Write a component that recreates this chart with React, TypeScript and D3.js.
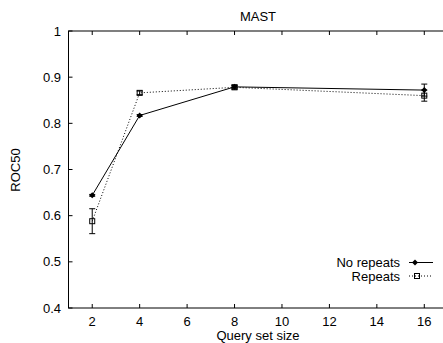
import React from "react";
import * as d3 from "d3";

const xValues = [2, 4, 8, 16];
const noRepeats = [0.644, 0.817, 0.879, 0.872];
const noRepeatsErr = [0.002, 0.002, 0.004, 0.013];
const repeats = [0.588, 0.866, 0.878, 0.86];
const repeatsErr = [0.027, 0.004, 0.004, 0.012];
const xTicks = [2, 4, 6, 8, 10, 12, 14, 16];
const yTicks = [0.4, 0.5, 0.6, 0.7, 0.8, 0.9, 1];

export default function App() {
  const W = 443, H = 343;
  const left = 68.5, top = 31, bottom = 308, right = 448;
  const x = d3.scaleLinear().domain([1, 17]).range([left, right]);
  const y = d3.scaleLinear().domain([0.4, 1]).range([bottom, top]);
  const line = d3.line<[number, number]>().x(d => x(d[0])).y(d => y(d[1]));
  const nr: [number, number][] = xValues.map((v, i) => [v, noRepeats[i]]);
  const rp: [number, number][] = xValues.map((v, i) => [v, repeats[i]]);
  const font = "'Liberation Sans', Arial, sans-serif";
  const fs = 13;
  const errBar = (cx: number, v: number, e: number, key: string) => {
    const y1 = y(v + e), y2 = y(v - e);
    return (
      <g key={key} stroke="#000" strokeWidth={1}>
        <line x1={cx} x2={cx} y1={y1} y2={y2} />
        <line x1={cx - 3} x2={cx + 3} y1={y1} y2={y1} />
        <line x1={cx - 3} x2={cx + 3} y1={y2} y2={y2} />
      </g>
    );
  };
  const diamond = (cx: number, cy: number, key: string) => (
    <path key={key} d={`M${cx},${cy - 3}L${cx + 3},${cy}L${cx},${cy + 3}L${cx - 3},${cy}Z`} fill="#000" />
  );
  const square = (cx: number, cy: number, key: string) => (
    <rect key={key} x={cx - 2.5} y={cy - 2.5} width={5} height={5} fill="none" stroke="#000" strokeWidth={1} />
  );
  const legY1 = 262.5, legY2 = 276;
  return (
    <svg width={W} height={H} style={{ position: "absolute", left: 0, top: 0 }} fontFamily={font}>
      <rect width={W} height={H} fill="#fff" />
      <g stroke="#000" strokeWidth={1} fill="none">
        <rect x={left} y={top} width={right - left} height={bottom - top} />
        {xTicks.map(t => (
          <g key={"xt" + t}>
            <line x1={x(t)} x2={x(t)} y1={bottom} y2={bottom - 4} />
            <line x1={x(t)} x2={x(t)} y1={top} y2={top + 4} />
          </g>
        ))}
        {yTicks.map(t => (
          <line key={"yt" + t} x1={left} x2={left + 4} y1={y(t)} y2={y(t)} />
        ))}
      </g>
      {xTicks.map(t => (
        <text key={"xl" + t} x={x(t)} y={bottom + 18} textAnchor="middle" fontSize={fs} fill="#000">{t}</text>
      ))}
      {yTicks.map(t => (
        <text key={"yl" + t} x={61} y={y(t) + 4.5} textAnchor="end" fontSize={fs} fill="#000">{t === 1 ? "1" : t.toFixed(1)}</text>
      ))}
      <text x={258} y={21} textAnchor="middle" fontSize={fs} fill="#000">MAST</text>
      <text x={258} y={340} textAnchor="middle" fontSize={fs} fill="#000">Query set size</text>
      <text transform={`translate(19.5,170) rotate(-90)`} textAnchor="middle" fontSize={fs} fill="#000">ROC50</text>

      <path d={line(nr) || ""} fill="none" stroke="#000" strokeWidth={1} />
      <path d={line(rp) || ""} fill="none" stroke="#000" strokeWidth={1} strokeDasharray="1,2" />
      {xValues.map((v, i) => errBar(x(v), noRepeats[i], noRepeatsErr[i], "en" + i))}
      {xValues.map((v, i) => errBar(x(v), repeats[i], repeatsErr[i], "er" + i))}
      {xValues.map((v, i) => square(x(v), y(repeats[i]), "sr" + i))}
      {xValues.map((v, i) => diamond(x(v), y(noRepeats[i]), "dn" + i))}

      <text x={400} y={legY1 + 4.5} textAnchor="end" fontSize={fs} fill="#000">No repeats</text>
      <line x1={409} x2={433} y1={legY1} y2={legY1} stroke="#000" strokeWidth={1} />
      {diamond(415, legY1, "ld")}
      <text x={400} y={legY2 + 4.5} textAnchor="end" fontSize={fs} fill="#000">Repeats</text>
      <line x1={409} x2={433} y1={legY2} y2={legY2} stroke="#000" strokeWidth={1} strokeDasharray="1,2" />
      {square(417, legY2, "ls")}
    </svg>
  );
}
